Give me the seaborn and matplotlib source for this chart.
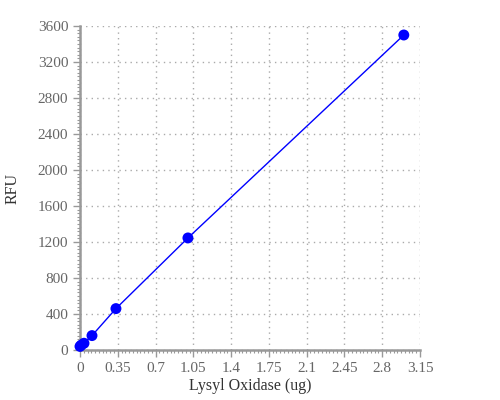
import numpy as np
import matplotlib
matplotlib.use("Agg")
import matplotlib.pyplot as plt
from matplotlib.ticker import MultipleLocator
import seaborn as sns
import pandas as pd

sns.set_style("white")
plt.rcParams['font.family'] = ['Liberation Serif', 'DejaVu Serif']

# standard curve values
enzyme_ug = [0, 0.012, 0.037, 0.111, 0.333, 1.0, 3.0]
rfu = [40, 55, 75, 160, 460, 1245, 3500]

df = pd.DataFrame({"Lysyl Oxidase (ug)": enzyme_ug, "RFU": rfu})

fig = plt.figure(figsize=(5, 4), dpi=100)
ax = fig.add_axes([0.16, 0.125, 0.68, 0.81])

sns.lineplot(data=df, x="Lysyl Oxidase (ug)", y="RFU", color="#0000ff",
             linewidth=1, ax=ax)
sns.scatterplot(data=df, x="Lysyl Oxidase (ug)", y="RFU", color="#0000ff",
                s=62, edgecolor="none", ax=ax, zorder=5, clip_on=False)

ax.set_xlim(0, 3.15)
ax.set_ylim(0, 3600)
ax.xaxis.set_minor_locator(MultipleLocator(0.035))
ax.yaxis.set_major_locator(MultipleLocator(400))
ax.yaxis.set_minor_locator(MultipleLocator(40))
ax.set_xticks(np.round(np.arange(0, 3.151, 0.35), 2))
ax.set_xticklabels(["0", "0.35", "0.7", "1.05", "1.4", "1.75", "2.1", "2.45", "2.8", "3.15"])

ax.grid(True, which="major", linestyle=(0, (1, 3)), color="#aaaaaa", linewidth=1)
for s in ["top", "right"]:
    ax.spines[s].set_visible(False)
for s in ["left", "bottom"]:
    ax.spines[s].set_color("#999999")
    ax.spines[s].set_linewidth(1.8)

ax.tick_params(which="major", direction="out", length=5, width=1,
               color="#999999", labelcolor="#666666", labelsize=11,
               left=True, bottom=True)
ax.tick_params(which="minor", direction="out", length=2, width=0.8,
               color="#999999", left=True, bottom=True)

ax.set_xlabel("Lysyl Oxidase (ug)", fontsize=11.5, color="#333333", labelpad=2)
ax.set_ylabel("RFU", fontsize=11.5, color="#333333", labelpad=12)

plt.savefig("out.png", dpi=100)
